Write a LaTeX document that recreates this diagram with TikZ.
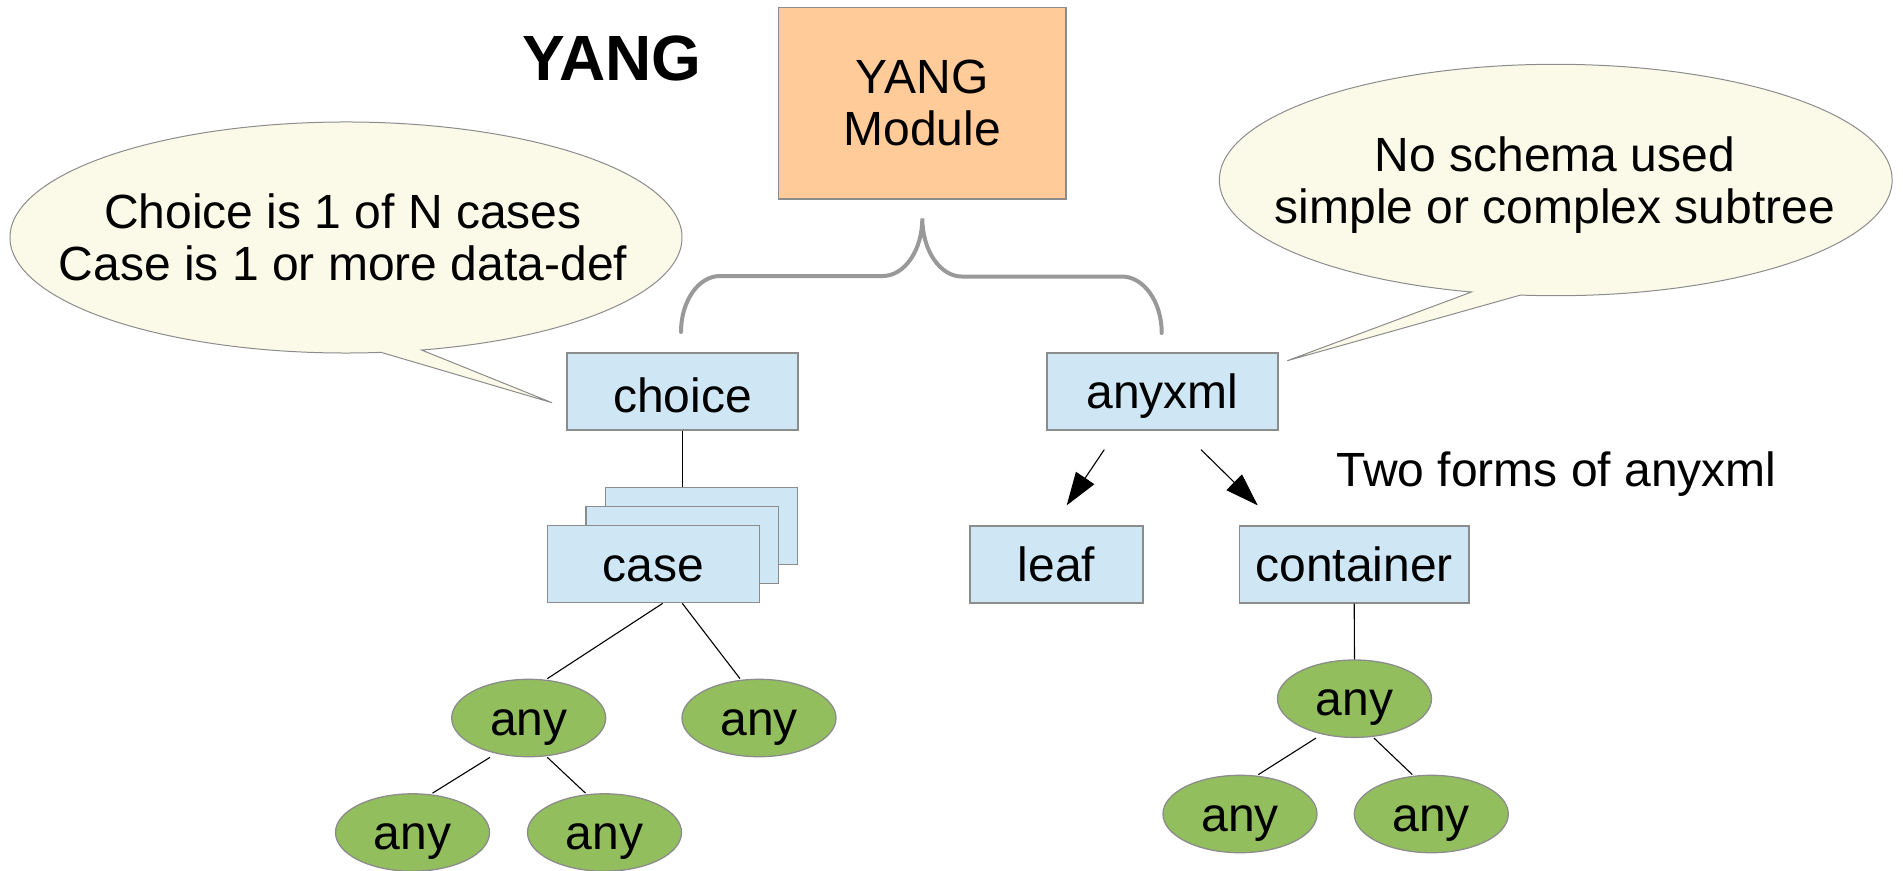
\documentclass[tikz,border=0pt]{standalone}
\usepackage{fontspec}
\setmainfont{Liberation Sans}
\usetikzlibrary{arrows.meta,shapes.geometric,calc}
\definecolor{boxblue}{RGB}{207,231,245}
\definecolor{boxedge}{RGB}{140,140,140}
\definecolor{peach}{RGB}{255,204,153}
\definecolor{leafgreen}{RGB}{147,190,94}
\definecolor{cream}{RGB}{251,250,232}
\definecolor{bracegray}{RGB}{153,153,153}
\begin{document}
\begin{tikzpicture}[x=1pt,y=-1pt,
  font=\fontsize{48}{52.5}\selectfont,
  box/.style={draw=boxedge, line width=1.3pt, fill=boxblue, rectangle, inner sep=0pt,
    minimum height=77pt, text height=34pt, text depth=0pt},
  anynode/.style={ellipse, draw=boxedge, line width=1.3pt, fill=leafgreen, inner sep=0pt,
    minimum width=154pt, minimum height=77.4pt, text height=34pt, text depth=0pt},
  link/.style={draw=black, line width=1.1pt},
  arrowlink/.style={draw=black, line width=1.1pt, -{Triangle[length=33pt,width=22pt]}},
  callout/.style={draw=boxedge, line width=1pt, fill=cream},
  brace/.style={draw=bracegray, line width=4pt, line cap=round}]
\useasboundingbox (0,0) rectangle (1903,870);

% callouts
\path[callout] (421.58,350.04) arc[start angle=-77, end angle=276, x radius=336pt, y radius=115.5pt] -- (552,402.7) -- cycle;
\node[align=center] (choicetext) at (343,237.5) {Choice is 1 of N cases\\Case is 1 or more data-def};
\path[callout] (1520.54,295.07) arc[start angle=-96, end angle=255.5, x radius=336.4pt, y radius=115.7pt] -- (1287.3,360.7) -- cycle;
\node[align=center] (anyxmltext) at (1555,185.3) {No schema used\\simple or complex subtree};

% title
\node[font=\fontsize{64}{70}\selectfont\bfseries, anchor=base] (title) at (612,80.7) {YANG};

% module
\node[draw=boxedge, line width=1.3pt, fill=peach, minimum width=287.7pt, minimum height=191.7pt,
  inner sep=0pt, align=center] (module) at (922.2,103.2) {YANG\\Module};

% brace
\draw[brace] (681,332) .. controls (681,301) and (698.5,276) .. (720,276) -- (882.7,276)
  .. controls (904.6,276) and (922.3,250.2) .. (922.3,218.3)
  .. controls (922.3,250.2) and (940,276.5) .. (961.7,276.5) -- (1121.7,276.5)
  .. controls (1143.2,276.5) and (1161.7,301) .. (1161.7,333);

% boxes
\node[box, minimum width=231pt, text height=42pt] (choice) at (682.5,391.5) {choice};
\node[box, minimum width=231pt] (anyxml) at (1162.5,391.5) {anyxml};
\node[box, minimum width=192pt] (caseback) at (701.7,525.8) {};
\node[box, minimum width=192.7pt] (casemid) at (682.3,545) {};
\node[box, minimum width=212pt] (case) at (653.3,564.2) {case};
\node[box, minimum width=173pt] (leaf) at (1056.5,564.5) {leaf};
\node[box, minimum width=229.7pt] (container) at (1354.2,564.5) {container};

% any nodes
\node[anynode] (any1) at (528.7,718) {any};
\node[anynode] (any2) at (759,718) {any};
\node[anynode] (any3) at (412.5,832.5) {any};
\node[anynode] (any4) at (604.5,832.5) {any};
\node[anynode] (anyc) at (1354.5,698.7) {any};
\node[anynode] (any5) at (1240,814) {any};
\node[anynode] (any6) at (1431.3,814) {any};

% links
\draw[link] (choice.south) -- (choice.south |- caseback.north);
\draw[link] ($(case.south)+(9.4,0)$) -- ($(any1.north)+(18.6,0)$);
\draw[link] ($(case.south)+(29,0)$) -- ($(any2.north)+(-19,0)$);
\draw[link] ($(any1.south)+(-38.7,0)$) -- ($(any3.north)+(20,0)$);
\draw[link] ($(any1.south)+(18.6,0)$) -- ($(any4.north)+(-19,0)$);
\draw[link] (container.south) -- (anyc.north);
\draw[link] ($(anyc.south)+(-38.5,0)$) -- ($(any5.north)+(18.3,0)$);
\draw[link] ($(anyc.south)+(19.5,0)$) -- ($(any6.north)+(-19,0)$);

% arrows
\draw[arrowlink] ($(anyxml.south)+(-58.2,19)$) -- ($(leaf.north)+(10.2,-20)$);
\draw[arrowlink] ($(anyxml.south)+(38.5,19)$) -- ($(container.north)+(-96.5,-20)$);

% note
\node[anchor=base west] (twoforms) at (1333,486.7) {Two forms of anyxml};
\end{tikzpicture}
\end{document}
